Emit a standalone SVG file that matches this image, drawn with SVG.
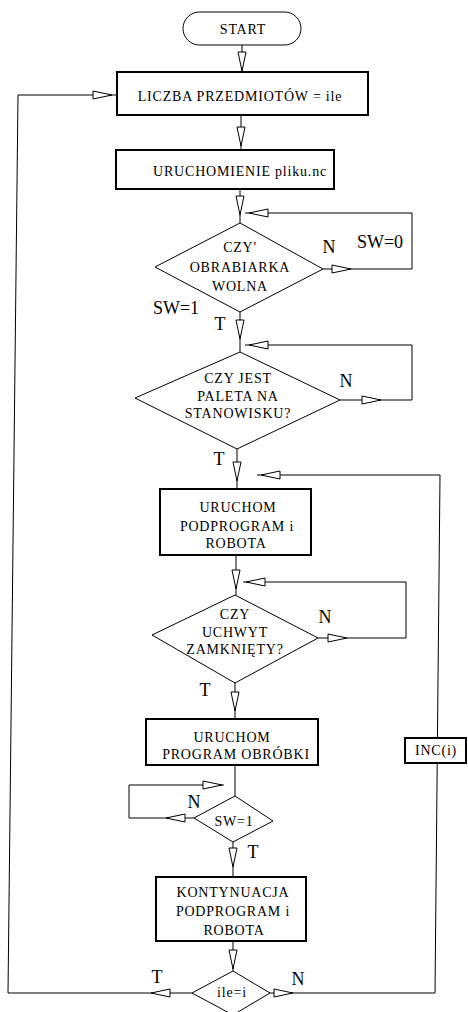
<svg xmlns="http://www.w3.org/2000/svg" xmlns:xlink="http://www.w3.org/1999/xlink" width="468" height="1012" viewBox="0 0 468 1012">
<style>
.bg{fill:#fff}
.box{fill:#fff;stroke:#000;stroke-width:2}
.dia{fill:#fff;stroke:#000;stroke-width:1}
.term{fill:#fff;stroke:#000;stroke-width:1}
.ln{fill:none;stroke:#000;stroke-width:1}
.ah{fill:#fff;stroke:#000;stroke-width:1;stroke-linejoin:miter}
text{font-family:"Liberation Serif","Times New Roman",serif;fill:#000}
.t{font-size:14px;letter-spacing:0.8px;text-anchor:middle}
.lb{font-size:18px;text-anchor:middle}
</style>
<defs>
<path id="ah" class="ah" d="M-4,0 L4,0 L0,19 Z"/>
</defs>
<rect class="bg" x="0" y="0" width="468" height="1012"/>

<g id="connectors">
<!-- straight down flows -->
<path class="ln" d="M242,45 V72"/>
<path class="ln" d="M241,115 V150"/>
<path class="ln" d="M240,189 V223"/>
<path class="ln" d="M240,312 V352"/>
<path class="ln" d="M237,449 V489"/>
<path class="ln" d="M236,555 V595"/>
<path class="ln" d="M235,683 V719"/>
<path class="ln" d="M235,765 V796"/>
<path class="ln" d="M233,842 V877"/>
<path class="ln" d="M233,941 V971"/>
<!-- loops -->
<path class="ln" d="M323,269 H412 V213 H245"/>
<path class="ln" d="M340,400 H412 V345 H245"/>
<path class="ln" d="M318,638 H406 V582 H243"/>
<path class="ln" d="M194,818 H129 V785 H224"/>
<path class="ln" d="M270,993 H435 L440,475 H257"/>
<path class="ln" d="M192,993 H8 L18,95 H116"/>
<!-- arrowheads -->
<use xlink:href="#ah" href="#ah" transform="translate(242,52)"/>
<use xlink:href="#ah" href="#ah" transform="translate(241,127)"/>
<use xlink:href="#ah" href="#ah" transform="translate(240,196)"/>
<use xlink:href="#ah" href="#ah" transform="translate(332,269) rotate(-90)"/>
<use xlink:href="#ah" href="#ah" transform="translate(268,213) rotate(90)"/>
<use xlink:href="#ah" href="#ah" transform="translate(240,320)"/>
<use xlink:href="#ah" href="#ah" transform="translate(362,400) rotate(-90)"/>
<use xlink:href="#ah" href="#ah" transform="translate(268,345) rotate(90)"/>
<use xlink:href="#ah" href="#ah" transform="translate(237,462)"/>
<use xlink:href="#ah" href="#ah" transform="translate(274,993) rotate(-90)"/>
<use xlink:href="#ah" href="#ah" transform="translate(280,475) rotate(90)"/>
<use xlink:href="#ah" href="#ah" transform="translate(236,570)"/>
<use xlink:href="#ah" href="#ah" transform="translate(328,638) rotate(-90)"/>
<use xlink:href="#ah" href="#ah" transform="translate(265,582) rotate(90)"/>
<use xlink:href="#ah" href="#ah" transform="translate(235,692)"/>
<use xlink:href="#ah" href="#ah" transform="translate(185,818) rotate(90)"/>
<use xlink:href="#ah" href="#ah" transform="translate(203,785) rotate(-90)"/>
<use xlink:href="#ah" href="#ah" transform="translate(233,848)"/>
<use xlink:href="#ah" href="#ah" transform="translate(233,950)"/>
<use xlink:href="#ah" href="#ah" transform="translate(170,993) rotate(90)"/>
<use xlink:href="#ah" href="#ah" transform="translate(93,95) rotate(-90)"/>
<!-- branch labels -->
<text class="lb" x="329" y="253">N</text>
<text class="lb" x="380" y="248">SW=0</text>
<text class="lb" x="176" y="314">SW=1</text>
<text class="lb" x="220" y="330">T</text>
<text class="lb" x="346" y="387">N</text>
<text class="lb" x="219" y="465">T</text>
<text class="lb" x="325" y="623">N</text>
<text class="lb" x="205" y="696">T</text>
<text class="lb" x="194" y="808">N</text>
<text class="lb" x="253" y="858">T</text>
<text class="lb" x="157" y="983">T</text>
<text class="lb" x="298" y="985">N</text>
</g>

<g id="start">
<rect class="term" x="183" y="12" width="118" height="33" rx="16.5" ry="16.5"/>
<text class="t" x="243" y="34">START</text>
</g>

<g id="box1">
<rect class="box" x="117" y="72" width="251" height="43"/>
<text class="t" x="240" y="101">LICZBA PRZEDMIOTÓW = ile</text>
</g>

<g id="box2">
<rect class="box" x="116" y="150" width="218" height="39"/>
<text class="t" x="240" y="176">URUCHOMIENIE pliku.nc</text>
</g>

<g id="d1">
<polygon class="dia" points="240,223 323,269 240,312 155,267"/>
<text class="t" x="240" y="252">CZY'</text>
<text class="t" x="240" y="272">OBRABIARKA</text>
<text class="t" x="240" y="291">WOLNA</text>
</g>

<g id="d2">
<polygon class="dia" points="240,352 340,400 237,449 135,398"/>
<text class="t" x="238" y="383">CZY JEST</text>
<text class="t" x="238" y="401">PALETA NA</text>
<text class="t" x="238" y="418">STANOWISKU?</text>
</g>

<g id="box3">
<rect class="box" x="160" y="489" width="151" height="66"/>
<text class="t" x="238" y="512">URUCHOM</text>
<text class="t" x="237" y="531">PODPROGRAM i</text>
<text class="t" x="236" y="548">ROBOTA</text>
</g>

<g id="d3">
<polygon class="dia" points="235,595 318,638 235,683 152,635"/>
<text class="t" x="235" y="619">CZY</text>
<text class="t" x="235" y="637">UCHWYT</text>
<text class="t" x="235" y="654">ZAMKNIĘTY?</text>
</g>

<g id="box4">
<rect class="box" x="146" y="719" width="172" height="46"/>
<text class="t" x="232" y="742">URUCHOM</text>
<text class="t" x="236" y="759">PROGRAM OBRÓBKI</text>
</g>

<g id="d4">
<polygon class="dia" points="235,796 273,821 233,842 194,818"/>
<text class="t" x="234" y="826">SW=1</text>
</g>

<g id="box5">
<rect class="box" x="156" y="877" width="150" height="64"/>
<text class="t" x="233" y="897">KONTYNUACJA</text>
<text class="t" x="233" y="916">PODPROGRAM i</text>
<text class="t" x="234" y="935">ROBOTA</text>
</g>

<g id="d5">
<polygon class="dia" points="233,971 270,993 233,1015 192,993"/>
<text class="t" x="232" y="997">ile=i</text>
</g>

<g id="inc">
<rect class="box" x="405" y="738" width="61" height="25"/>
<text class="t" x="436" y="755">INC(i)</text>
</g>
</svg>
